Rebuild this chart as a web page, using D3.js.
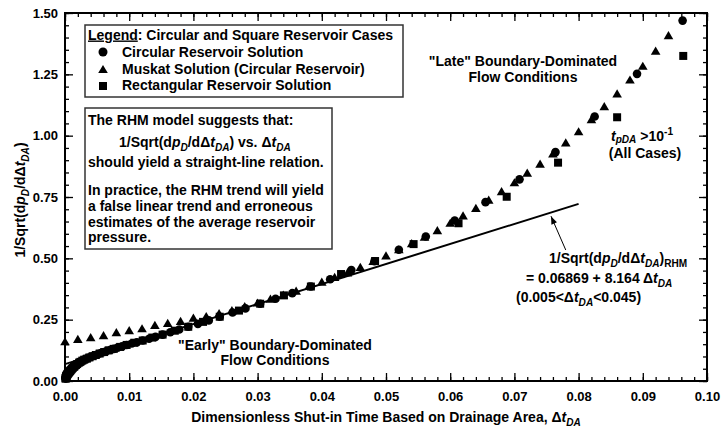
<!DOCTYPE html>
<html><head><meta charset="utf-8">
<script src="https://cdn.jsdelivr.net/npm/d3@7"></script>
<style>
html,body{margin:0;padding:0;background:#fff;}
svg{display:block;font-family:"Liberation Sans",Arial,sans-serif;}
</style></head>
<body><svg id="c" width="722" height="431"></svg>
<script>
// ---- data ----
const circleX = [0.0001,0.00011,0.00012,0.00013,0.00014,0.00015,0.00016,0.00018,0.00019,0.00021,0.00022,0.00024,0.00026,0.00028,0.0003,0.00033,0.00035,0.00038,0.00041,0.00045,0.00048,0.00052,0.00056,0.00061,0.00065,0.00071,0.00076,0.00082,0.00089,0.00096,0.0010,0.0011,0.0012,0.0013,0.0014,0.0015,0.0016,0.0018,0.0019,0.0021,0.0022,0.0024,0.0026,0.0028,0.0030,0.0033,0.0035,0.0038,0.0041,0.0045,0.0048,0.0052,0.0056,0.0061,0.0065,0.0071,0.0076,0.0082,0.0089,0.0096,0.0104,0.0112,0.0121,0.0131,0.0141,0.0152,0.0164,0.0178,0.0192,0.0207,0.0224,0.0241,0.0261,0.0281,0.0304,0.0328,0.0354,0.0383,0.0413,0.0446,0.0482,0.0520,0.0562,0.0607,0.0655,0.0708,0.0764,0.0825,0.0891,0.0962];
const circleY = [0.010,0.011,0.012,0.013,0.014,0.015,0.016,0.017,0.018,0.019,0.020,0.021,0.022,0.023,0.024,0.025,0.026,0.028,0.029,0.030,0.031,0.033,0.034,0.035,0.037,0.039,0.040,0.042,0.044,0.046,0.048,0.050,0.053,0.055,0.058,0.060,0.063,0.066,0.069,0.072,0.075,0.078,0.081,0.084,0.087,0.090,0.093,0.096,0.099,0.103,0.106,0.110,0.114,0.118,0.122,0.127,0.131,0.136,0.141,0.147,0.153,0.158,0.165,0.172,0.180,0.189,0.199,0.210,0.221,0.233,0.247,0.262,0.279,0.296,0.315,0.335,0.358,0.385,0.415,0.452,0.488,0.535,0.589,0.654,0.729,0.822,0.933,1.078,1.252,1.469];

const muskatX = [0,0.002,0.004,0.006,0.008,0.010,0.012,0.014,0.016,0.018,0.020,0.022,0.024,0.026,0.028,0.030,0.032,0.034,0.036,0.038,0.040,0.042,0.044,0.046,0.048,0.050,0.052,0.054,0.056,0.058,0.060,0.062,0.064,0.066,0.068,0.070,0.072,0.074,0.076,0.078,0.080,0.082,0.084,0.086,0.088,0.090,0.092,0.094];
const muskatY = [0.160,0.170,0.177,0.185,0.197,0.205,0.213,0.227,0.235,0.243,0.256,0.263,0.275,0.287,0.303,0.318,0.334,0.350,0.366,0.386,0.403,0.422,0.441,0.463,0.487,0.510,0.535,0.560,0.586,0.613,0.643,0.673,0.704,0.737,0.772,0.808,0.847,0.884,0.926,0.971,1.016,1.065,1.118,1.170,1.227,1.283,1.345,1.408];

const rectX = [0.0001,0.00011,0.00012,0.00014,0.00015,0.00017,0.00019,0.00022,0.00024,0.00027,0.00030,0.00034,0.00038,0.00043,0.00048,0.00054,0.00061,0.00068,0.00077,0.00086,0.00096,0.0011,0.0012,0.0014,0.0015,0.0017,0.0019,0.0022,0.0024,0.0027,0.0030,0.0034,0.0038,0.0043,0.0048,0.0054,0.0061,0.0068,0.0076,0.0086,0.0096,0.0108,0.0121,0.0136,0.0152,0.0171,0.0192,0.0215,0.0241,0.0271,0.0304,0.0341,0.0383,0.0430,0.0483,0.0543,0.0613,0.0688,0.0768,0.0860,0.0963];
const rectY = [0.010,0.011,0.012,0.014,0.015,0.017,0.018,0.020,0.021,0.023,0.024,0.026,0.028,0.030,0.031,0.034,0.035,0.038,0.040,0.043,0.046,0.050,0.053,0.058,0.060,0.065,0.069,0.075,0.078,0.083,0.087,0.091,0.096,0.101,0.106,0.112,0.118,0.125,0.131,0.139,0.147,0.156,0.165,0.177,0.189,0.205,0.221,0.241,0.262,0.287,0.315,0.349,0.385,0.436,0.489,0.558,0.643,0.751,0.890,1.075,1.325];

const rhmIntercept = 0.06869, rhmSlope = 8.164, rhmRange = [0, 0.08];
const xTicks = [0,0.01,0.02,0.03,0.04,0.05,0.06,0.07,0.08,0.09,0.10];
const yTicks = [0,0.25,0.50,0.75,1.00,1.25,1.50];
const legendLabels = ["Circular Reservoir Solution","Muskat Solution (Circular Reservoir)","Rectangular Reservoir Solution"];

// ---- layout ----
const L=65,R=707,T=13,B=381;
const svg = d3.select('#c');
const x = d3.scaleLinear().domain([0,0.1]).range([L,R]);
const y = d3.scaleLinear().domain([0,1.5]).range([B,T]);
const FF = '"Liberation Sans",Arial,sans-serif';

function styleAxis(g, fs){
  g.select('.domain').remove();
  g.selectAll('line').attr('stroke','#000').attr('stroke-width',1.3);
  g.selectAll('text').attr('font-size',fs).attr('font-weight','bold').attr('font-family',FF).attr('fill','#000');
}
const minorX = d3.range(0,0.1001,0.002);
const minorY = d3.range(0,1.5001,0.05);
// bottom
svg.append('g').attr('transform',`translate(0,${B})`).call(d3.axisBottom(x).tickValues(minorX).tickSize(-4).tickFormat('')).call(g=>styleAxis(g,13));
svg.append('g').attr('transform',`translate(0,${B})`).call(d3.axisBottom(x).tickValues(xTicks).tickSize(-8).tickPadding(11).tickFormat(d3.format('.2f'))).call(g=>styleAxis(g,13));
// top
svg.append('g').attr('transform',`translate(0,${T})`).call(d3.axisTop(x).tickValues(minorX).tickSize(-4).tickFormat('')).call(g=>styleAxis(g,13));
svg.append('g').attr('transform',`translate(0,${T})`).call(d3.axisTop(x).tickValues(xTicks).tickSize(-8).tickFormat('')).call(g=>styleAxis(g,13));
// left
svg.append('g').attr('transform',`translate(${L},0)`).call(d3.axisLeft(y).tickValues(minorY).tickSize(-4).tickFormat('')).call(g=>styleAxis(g,13));
svg.append('g').attr('transform',`translate(${L},0)`).call(d3.axisLeft(y).tickValues(yTicks).tickSize(-8).tickPadding(7).tickFormat(d3.format('.2f'))).call(g=>styleAxis(g,13));
// right
svg.append('g').attr('transform',`translate(${R},0)`).call(d3.axisRight(y).tickValues(minorY).tickSize(-4).tickFormat('')).call(g=>styleAxis(g,13));
svg.append('g').attr('transform',`translate(${R},0)`).call(d3.axisRight(y).tickValues(yTicks).tickSize(-8).tickFormat('')).call(g=>styleAxis(g,13));
// frame
svg.append('rect').attr('x',L).attr('y',T).attr('width',R-L).attr('height',B-T).attr('fill','none').attr('stroke','#000').attr('stroke-width',2);

// rich text helper
function rich(g, px, py, parts, fs, anchor, transform, subShift){
  const t = g.append('text').attr('x',px).attr('y',py).attr('font-size',fs).attr('font-weight','bold')
    .attr('font-family',FF).attr('fill','#000').attr('text-anchor',anchor||'start');
  if(transform) t.attr('transform',transform);
  const ss = subShift===undefined?3.5:subShift;
  let shift=0;
  parts.forEach(p=>{
    if(typeof p==='string') p={t:p};
    const ts=t.append('tspan').text(p.t);
    const target = p.sub?ss:(p.sup?-6:0);
    if(target!==shift){ ts.attr('dy',target-shift); shift=target; }
    if(p.sub||p.sup) ts.attr('font-size',fs*0.72);
    if(p.it) ts.attr('font-style','italic');
    if(p.u) ts.attr('text-decoration','underline');
  });
  return t;
}

// RHM line
svg.append('line')
  .attr('x1',x(rhmRange[0])).attr('y1',y(rhmIntercept+rhmSlope*rhmRange[0]))
  .attr('x2',x(rhmRange[1])).attr('y2',y(rhmIntercept+rhmSlope*rhmRange[1]))
  .attr('stroke','#000').attr('stroke-width',2);

// markers
const tri = 'M0,-4.6L4.8,3.6L-4.8,3.6Z';
svg.append('g').selectAll('path').data(muskatX.map((d,i)=>[d,muskatY[i]])).join('path')
  .attr('d',tri).attr('transform',d=>`translate(${x(d[0])},${y(d[1])})`).attr('fill','#000');
svg.append('g').selectAll('rect').data(rectX.map((d,i)=>[d,rectY[i]])).join('rect')
  .attr('x',d=>x(d[0])-4).attr('y',d=>y(d[1])-4).attr('width',8).attr('height',8).attr('fill','#000');
svg.append('g').selectAll('circle').data(circleX.map((d,i)=>[d,circleY[i]])).join('circle')
  .attr('cx',d=>x(d[0])).attr('cy',d=>y(d[1])).attr('r',4.3).attr('fill','#000');

// legend box
const lg = svg.append('g');
lg.append('rect').attr('x',85).attr('y',25).attr('width',318).attr('height',72).attr('fill','#fff').attr('stroke','#333').attr('stroke-width',1.5);
rich(lg,88,39.5,[{t:'Legend',u:true},': Circular and Square Reservoir Cases'],14);
lg.append('circle').attr('cx',103).attr('cy',52).attr('r',4.5).attr('fill','#000');
lg.append('path').attr('d',tri).attr('transform','translate(103,69.5)').attr('fill','#000');
lg.append('rect').attr('x',99).attr('y',82).attr('width',8).attr('height',8).attr('fill','#000');
legendLabels.forEach((s,i)=>rich(lg,122,57+i*16.5,[s],14));

// RHM text box
const bx = svg.append('g');
bx.append('rect').attr('x',85).attr('y',108).attr('width',247).attr('height',141).attr('fill','#fff').attr('stroke','#333').attr('stroke-width',1.5);
rich(bx,88,125,['The RHM model suggests that:'],14);
rich(bx,119,147,['1/Sqrt(d',{t:'p',it:true},{t:'D',it:true,sub:true},'/d\u0394',{t:'t',it:true},{t:'DA',it:true,sub:true},') vs. \u0394',{t:'t',it:true},{t:'DA',it:true,sub:true}],14);
rich(bx,88,167,['should yield a straight-line relation.'],14);
rich(bx,88,195,['In practice, the RHM trend will yield'],14);
rich(bx,88,210.5,['a false linear trend and erroneous'],14);
rich(bx,88,226.5,['estimates of the average reservoir'],14);
rich(bx,88,242,['pressure.'],14);

// annotations
rich(svg,523,65.5,['"Late" Boundary-Dominated'],14,'middle');
rich(svg,523,81.5,['Flow Conditions'],14,'middle');
rich(svg,611,140.5,[{t:'t',it:true},{t:'pDA',it:true,sub:true},' >10',{t:'-1',sup:true}],14,'start',null,2.5);
rich(svg,645,158,['(All Cases)'],14,'middle');
rich(svg,275,349.5,['"Early" Boundary-Dominated'],14,'middle');
rich(svg,275,365,['Flow Conditions'],14,'middle');
rich(svg,549,263,['1/Sqrt(d',{t:'p',it:true},{t:'D',it:true,sub:true},'/d\u0394',{t:'t',it:true},{t:'DA',it:true,sub:true},')',{t:'RHM',sub:true}],14);
rich(svg,526,283,['= 0.06869 + 8.164 \u0394',{t:'t',it:true},{t:'DA',it:true,sub:true}],14);
rich(svg,516,302,['(0.005<\u0394',{t:'t',it:true},{t:'DA',it:true,sub:true},'<0.045)'],14);

// arrow (data coords)
const aTail=[0.0780,0.534], aTip=[0.0757,0.672];
const x1=x(aTail[0]),y1=y(aTail[1]),x2=x(aTip[0]),y2=y(aTip[1]);
svg.append('line').attr('x1',x1).attr('y1',y1).attr('x2',x2).attr('y2',y2).attr('stroke','#000').attr('stroke-width',1);
const ang=Math.atan2(y2-y1,x2-x1);
const hl=8, hw=3;
const bxp=x2-hl*Math.cos(ang), byp=y2-hl*Math.sin(ang);
svg.append('path').attr('d',`M${x2},${y2}L${bxp+hw*Math.sin(ang)},${byp-hw*Math.cos(ang)}L${bxp-hw*Math.sin(ang)},${byp+hw*Math.cos(ang)}Z`).attr('fill','#000');

// axis titles
rich(svg,386,422,['Dimensionless Shut-in Time Based on Drainage Area, \u0394',{t:'t',it:true},{t:'DA',it:true,sub:true}],14,'middle');
rich(svg,0,0,['1/Sqrt(d',{t:'p',it:true},{t:'D',it:true,sub:true},'/d\u0394',{t:'t',it:true},{t:'DA',it:true,sub:true},')'],14,'middle','translate(25,200) rotate(-90)');
</script></body></html>
